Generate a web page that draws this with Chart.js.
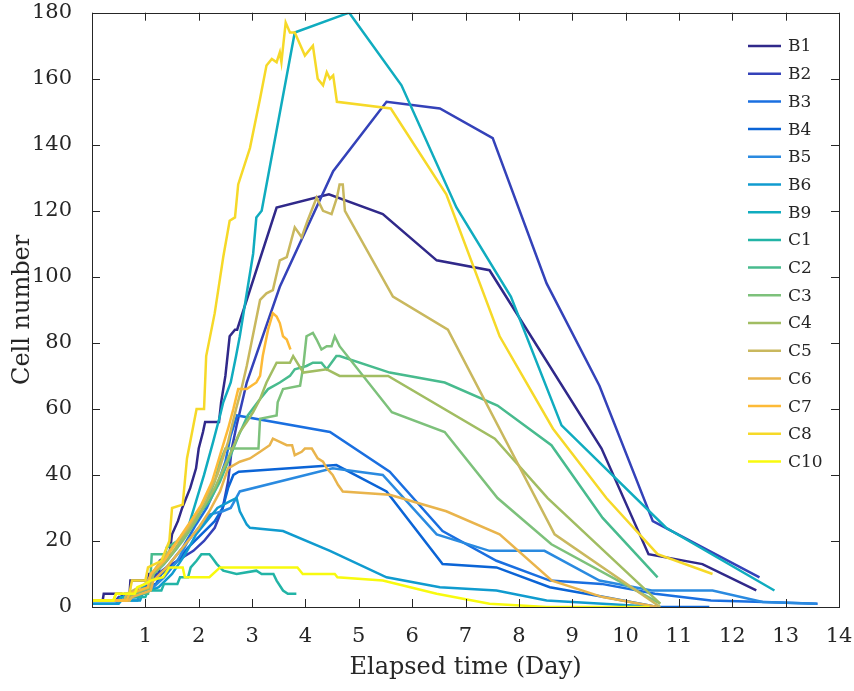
<!DOCTYPE html>
<html>
<head>
<meta charset="utf-8">
<script src="https://cdn.jsdelivr.net/npm/chart.js@4.4.1/dist/chart.umd.min.js"></script>
<style>
  html, body { margin: 0; padding: 0; background: #fff; }
  #wrap { width: 854px; height: 691px; }
</style>
</head>
<body>
<div id="wrap"><canvas id="c" width="854" height="691"></canvas></div>
<script>
// Dane: [dzień, liczba komórek]
const B1 = [[0,2],[0.2,2],[0.22,4],[0.55,4],[0.57,3],[0.7,3],[0.72,8],[1.05,8],[1.07,10],[1.25,10],[1.27,14],[1.45,16],[1.5,22],[1.61,26],[1.69,30],[1.84,36],[1.95,42],[2.0,48],[2.08,53],[2.12,56],[2.38,56],[2.42,62],[2.5,70],[2.58,82],[2.68,84],[2.72,84],[3.46,121],[4.44,125],[5.45,119],[6.46,105],[7.45,102],[9.55,48],[10.43,16],[11.44,13],[12.45,5]];
const B2 = [[0,2],[0.45,2],[0.5,3],[0.8,3],[0.85,5],[1.1,6],[1.15,9],[1.4,12],[1.6,14],[1.9,17],[2.1,20],[2.3,24],[2.45,30],[2.55,38],[2.62,48],[2.71,55],[2.9,68],[3.52,97],[4.52,132],[5.52,153],[6.52,151],[7.51,142],[8.52,98],[9.51,67],[10.51,26],[12.51,9]];
const B3 = [[0,2],[0.6,2],[0.62,4],[0.95,4],[1.0,7],[1.25,9],[1.45,13],[1.7,18],[1.95,25],[2.15,30],[2.35,37],[2.5,44],[2.6,52],[2.72,58],[4.46,53],[5.58,41],[6.57,23],[7.58,14],[8.58,8],[9.55,7],[10.55,4],[11.6,2],[12.6,1.5],[13.6,1]];
const B4 = [[0,2],[0.5,2],[0.55,3],[0.9,3],[0.95,6],[1.2,7],[1.3,10],[1.55,13],[1.8,18],[2.05,22],[2.3,26],[2.45,30],[2.55,36],[2.65,40],[2.75,41],[4.58,43],[5.52,35],[6.57,13],[7.58,12],[8.58,6],[9.6,3],[10.6,0],[11.57,0]];
const B5 = [[0,1],[0.45,1],[0.5,2],[0.85,2],[0.9,4],[1.15,6],[1.35,9],[1.6,14],[1.8,20],[2.0,24],[2.2,28],[2.45,29],[2.6,30],[2.77,35],[4.51,42],[5.45,40],[6.46,22],[7.45,17],[8.48,17],[9.51,8],[10.49,5],[11.63,5],[12.57,1.5],[13.58,1]];
const B6 = [[0,1],[0.5,1],[0.55,2],[0.9,2],[0.95,4],[1.25,6],[1.5,10],[1.75,16],[1.95,22],[2.15,26],[2.35,30],[2.58,32],[2.71,33],[2.77,29],[2.9,25],[2.96,24],[3.58,23],[4.46,17],[5.52,9],[6.52,6],[7.58,5],[8.52,2],[9.57,1],[10.6,0]];
const B9 = [[0,2],[0.5,2],[0.55,3],[0.9,3],[0.95,6],[1.1,9],[1.35,13],[1.6,18],[1.8,24],[1.95,32],[2.1,40],[2.27,50],[2.4,58],[2.46,62],[2.6,68],[2.7,76],[2.77,82],[3.02,107],[3.08,118],[3.18,120],[3.8,174],[4.82,180],[5.8,158],[6.83,121],[7.85,94],[8.8,55],[10.76,24],[12.79,5]];
const C1 = [[0,2],[0.6,2],[0.65,3],[1.0,3],[1.05,5],[1.3,5],[1.35,7],[1.6,7],[1.65,9],[1.8,9],[1.85,12],[1.96,14],[2.05,16],[2.2,16],[2.25,15],[2.34,13],[2.46,11],[2.71,10],[3.08,11],[3.18,10],[3.4,10],[3.46,8],[3.58,5],[3.67,4],[3.83,4]];
const C2 = [[0,2],[0.7,2],[0.75,4],[1.05,4],[1.1,10],[1.12,16],[1.37,16],[1.4,18],[1.6,20],[1.8,24],[2.0,28],[2.2,32],[2.4,38],[2.6,46],[2.75,52],[2.92,58],[3.15,63],[3.3,66],[3.52,68],[3.71,70],[3.8,72],[4.02,73],[4.14,74],[4.3,74],[4.4,72],[4.58,76],[4.64,76],[5.58,71],[6.61,68],[7.6,61],[8.61,49],[9.57,27],[10.6,9]];
const C3 = [[0,2],[0.7,2],[0.75,4],[1.1,6],[1.15,10],[1.4,14],[1.7,20],[1.95,26],[2.15,32],[2.3,38],[2.4,44],[2.5,48],[3.12,48],[3.15,57],[3.46,58],[3.48,62],[3.58,66],[3.9,67],[3.96,73],[4.02,82],[4.14,83],[4.21,81],[4.3,78],[4.4,79],[4.49,79],[4.55,82],[4.64,79],[5.62,59],[6.61,53],[7.6,33],[8.61,19],[10.65,1]];
const C4 = [[0,2],[0.7,2],[0.75,4],[1.1,6],[1.15,10],[1.4,14],[1.7,21],[2.0,28],[2.3,36],[2.55,45],[2.77,53],[2.9,56],[3.02,59],[3.15,63],[3.27,68],[3.46,74],[3.71,74],[3.77,76],[3.96,71],[4.4,72],[4.64,70],[5.55,70],[7.55,51],[8.54,33],[10.65,1]];
const C5 = [[0,2],[0.6,2],[0.65,4],[1.0,7],[1.2,12],[1.5,18],[1.8,24],[2.1,32],[2.35,40],[2.55,50],[2.7,60],[2.8,66],[2.9,73],[3.15,93],[3.27,95],[3.39,96],[3.52,105],[3.65,106],[3.8,115],[3.93,112],[4.04,117],[4.21,124],[4.33,120],[4.49,119],[4.59,124],[4.64,128],[4.7,128],[4.74,120],[5.64,94],[6.67,84],[8.67,22],[10.65,0]];
const C6 = [[0,2],[0.7,2],[0.75,3],[1.1,5],[1.15,8],[1.4,12],[1.7,18],[2.0,24],[2.2,29],[2.4,35],[2.55,42],[2.77,44],[2.96,45],[3.15,47],[3.33,49],[3.39,51],[3.52,50],[3.65,49],[3.75,49],[3.8,46],[3.93,47],[3.99,48],[4.12,48],[4.23,45],[4.33,44],[4.4,42],[4.51,40],[4.61,37],[4.7,35],[5.58,34],[6.64,29],[7.64,22],[8.62,8],[9.57,3],[10.6,0]];
const C7 = [[0,2],[0.65,2],[0.7,4],[1.05,6],[1.1,10],[1.35,14],[1.6,20],[1.85,26],[2.05,31],[2.25,38],[2.4,46],[2.55,54],[2.65,60],[2.74,66],[2.9,66],[3.08,68],[3.15,70],[3.2,76],[3.3,84],[3.39,89],[3.46,88],[3.52,86],[3.58,82],[3.65,81],[3.72,78]];
const C8 = [[0,2],[0.4,2],[0.45,4],[0.7,4],[0.75,8],[1.0,8],[1.05,12],[1.3,14],[1.45,20],[1.5,30],[1.7,31],[1.78,45],[1.9,55],[1.96,60],[2.1,60],[2.14,76],[2.3,89],[2.46,106],[2.58,117],[2.68,118],[2.74,128],[2.96,139],[3.15,154],[3.27,164],[3.37,166],[3.46,165],[3.52,168],[3.55,165],[3.63,177],[3.71,174],[3.8,174],[3.99,167],[4.14,170],[4.23,160],[4.33,158],[4.4,162],[4.46,160],[4.52,161],[4.59,153],[5.6,151],[6.64,125],[7.64,82],[8.64,54],[9.64,33],[10.6,16],[11.63,10]];
const C10 = [[0,2],[0.4,2],[0.45,4],[0.8,4],[0.85,6],[1.0,7],[1.1,8],[1.33,9],[1.45,12],[1.7,12],[1.74,9],[2.2,9],[2.4,12],[3.85,12],[3.95,10],[4.55,10],[4.6,9],[5.45,8],[6.46,4],[7.45,1],[8.52,0],[10.45,0]];

const seriesNames = ['B1','B2','B3','B4','B5','B6','B9','C1','C2','C3','C4','C5','C6','C7','C8','C10'];
const seriesData = [B1,B2,B3,B4,B5,B6,B9,C1,C2,C3,C4,C5,C6,C7,C8,C10];
const seriesColors = ['#30298a','#3442b9','#1a6fe0','#0b64d6','#2a8ae0','#109bcf','#10acbf','#22b4a6',
                      '#48bb8e','#7dc17b','#a1bd62','#c9b85e','#e9b44c','#fdba37','#f6d928','#f8fa0e'];

const xTicks = [0,1,2,3,4,5,6,7,8,9,10,11,12,13,14];
const yTicks = [0,20,40,60,80,100,120,140,160,180];

const FONT = "'DejaVu Serif', serif";
const INK = '#262626';

// Ramka osi + wewnętrzne znaczniki (styl MATLAB) + legenda w obszarze wykresu
const boxPlugin = {
    id: 'box',
    afterDatasetsDraw(chart) {
        const { ctx, chartArea: a, scales: { x, y } } = chart;
        ctx.save();
        ctx.strokeStyle = INK;
        ctx.lineWidth = 1;
        ctx.strokeRect(Math.round(a.left) + 0.5, Math.round(a.top) + 0.5,
                       Math.round(a.right - a.left), Math.round(a.bottom - a.top));
        ctx.beginPath();
        x.ticks.forEach(t => {
            const px = Math.round(x.getPixelForValue(t.value)) + 0.5;
            ctx.moveTo(px, a.bottom); ctx.lineTo(px, a.bottom - 8);
            ctx.moveTo(px, a.top); ctx.lineTo(px, a.top + 8);
        });
        y.ticks.forEach(t => {
            const py = Math.round(y.getPixelForValue(t.value)) + 0.5;
            ctx.moveTo(a.left, py); ctx.lineTo(a.left + 8, py);
            ctx.moveTo(a.right, py); ctx.lineTo(a.right - 8, py);
        });
        ctx.stroke();

        // legenda
        const lx = 748, ly = 46, step = 27.7;
        ctx.font = '17px ' + FONT;
        ctx.textBaseline = 'middle';
        ctx.textAlign = 'left';
        chart.data.datasets.forEach((ds, i) => {
            const yy = ly + i * step;
            ctx.strokeStyle = ds.borderColor;
            ctx.lineWidth = 2.5;
            ctx.beginPath();
            ctx.moveTo(lx, yy); ctx.lineTo(lx + 33, yy);
            ctx.stroke();
            ctx.fillStyle = INK;
            ctx.fillText(ds.label, lx + 40, yy + 1);
        });
        ctx.restore();
    }
};

const datasets = seriesNames.map((name, i) => ({
    label: name,
    data: seriesData[i].map(p => ({ x: p[0], y: p[1] })),
    borderColor: seriesColors[i],
    backgroundColor: seriesColors[i],
    borderWidth: 2.5,
    pointRadius: 0,
    tension: 0,
    fill: false,
    order: seriesNames.length - i
}));

new Chart(document.getElementById('c'), {
    type: 'line',
    data: { datasets },
    options: {
        responsive: false,
        animation: false,
        devicePixelRatio: 1,
        layout: { padding: { top: 12.7, right: 15, left: 0, bottom: 0 } },
        plugins: { legend: { display: false }, tooltip: { enabled: false } },
        scales: {
            x: {
                type: 'linear', min: 0, max: 14,
                afterBuildTicks: s => { s.ticks = xTicks.map(v => ({ value: v })); },
                afterFit: s => { s.height = 84; s.paddingLeft = 0; s.paddingRight = 0; },
                ticks: {
                    callback: v => v === 0 ? '' : v,
                    font: { family: FONT, size: 21 }, color: INK, padding: 9,
                    maxRotation: 0, autoSkip: false
                },
                grid: { display: false },
                border: { display: false },
                title: { display: true, text: 'Elapsed time (Day)', color: INK,
                         font: { family: FONT, size: 24 }, padding: { top: 0, bottom: 9 } }
            },
            y: {
                type: 'linear', min: 0, max: 180,
                afterBuildTicks: s => { s.ticks = yTicks.map(v => ({ value: v })); },
                afterFit: s => { s.width = 92; s.paddingTop = 0; s.paddingBottom = 0; },
                ticks: { font: { family: FONT, size: 21 }, color: INK, padding: 12 },
                grid: { display: false },
                border: { display: false },
                title: { display: true, text: 'Cell number', color: INK,
                         font: { family: FONT, size: 24 }, padding: { top: 8, bottom: 0 } }
            }
        }
    },
    plugins: [boxPlugin]
});
</script>
</body>
</html>
